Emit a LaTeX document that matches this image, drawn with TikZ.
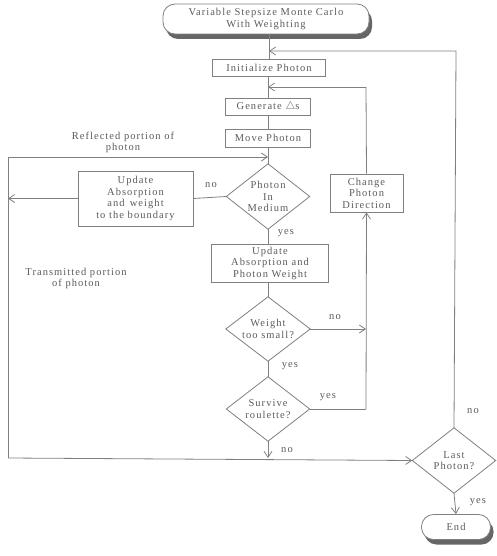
\documentclass[tikz,border=0pt]{standalone}
\usepackage{fontspec}
\setmainfont[LetterSpace=10]{Liberation Serif}
\usetikzlibrary{arrows.meta,shadows}
\definecolor{ln}{HTML}{808080}
\definecolor{tx}{HTML}{5c5c5c}
\begin{document}
\begin{tikzpicture}[x=1pt,y=-1pt,
  every node/.style={font=\fontsize{10.5}{11.5}\selectfont, text=tx},
  box/.style={draw=ln, line width=0.8pt, rectangle, inner sep=0pt, align=center},
  dia/.style={rectangle, inner sep=0pt, align=center},
  term/.style={draw=ln, line width=0.8pt, fill=white, rounded corners=12pt, inner sep=0pt, align=center,
     drop shadow={shadow xshift=3pt, shadow yshift=-5pt, fill=black!60, opacity=1}},
  lab/.style={inner sep=1pt, align=center},
  conn/.style={draw=ln, line width=0.8pt},
  arr/.style={conn, -{Straight Barb[length=6pt,width=8pt]}}]
\useasboundingbox (0,0) rectangle (496,556);
\fill[white] (0,0) rectangle (496,556);

% nodes
\node[term, minimum width=206pt, minimum height=30pt] (start) at (266,19) {Variable Stepsize Monte Carlo\\[1pt]With Weighting};
\node[box, minimum width=113pt, minimum height=17pt] (init) at (269,67.5) {Initialize Photon};
\node[box, minimum width=85pt, minimum height=17pt] (gen) at (268,106.5) {Generate $\bigtriangleup$s};
\node[box, minimum width=85pt, minimum height=18pt] (move) at (268,138) {Move Photon};
\node[dia, minimum width=83pt, minimum height=65pt] (med) at (268,196.5) {Photon\\In\\Medium};
\node[box, minimum width=115pt, minimum height=55pt] (upb) at (135.5,198.5) {Update\\Absorption\\and\enspace weight\\to the boundary};
\node[box, minimum width=73pt, minimum height=38pt] (chg) at (366.5,193) {Change\\Photon\\Direction};
\node[box, minimum width=117pt, minimum height=38pt] (upw) at (270,263) {Update\\Absorption and\\Photon Weight};
\node[dia, minimum width=84pt, minimum height=64pt] (wts) at (268,329) {Weight\\too small?};
\node[dia, minimum width=83pt, minimum height=64pt] (sur) at (268,409) {Survive\\roulette?};
\node[dia, minimum width=83pt, minimum height=65pt] (last) at (454,460.5) {Last\\Photon?};
\node[term, minimum width=69pt, minimum height=25pt, rounded corners=12pt] (end) at (456,527) {End};

\foreach \d in {med,wts,sur,last}
  \draw[conn] (\d.north) -- (\d.east) -- (\d.south) -- (\d.west) -- cycle;

% coordinates
\coordinate (jtop) at (269,51);
\coordinate (rtop) at (456,51);
\coordinate (jmid) at (268,87);
\coordinate (cmid) at (366,87);
\coordinate (lref) at (8,157);
\coordinate (mref) at (268,157);
\coordinate (lout) at (8,198.5);
\coordinate (lbot) at (8,458);
\coordinate (mbot) at (268,458);
\coordinate (wr) at (366,329);
\coordinate (sr) at (366,409);

% connectors
\draw[conn] (start.south -| jtop) -- (init.north -| jtop);
\draw[arr] (last.north) -- (rtop) -- (jtop);
\draw[conn] (init.south -| gen.north) -- (gen.north);
\draw[conn] (chg.north) -- (cmid);
\draw[arr] (cmid) -- (jmid);
\draw[conn] (gen.south) -- (move.north);
\draw[conn] (move.south) -- (med.north);
\draw[arr] (lref) -- (mref);
\draw[conn] (med.west) -- (upb.east);
\draw[arr] (upb.west) -- (lout);
\draw[conn] (med.south) -- (med.south |- upw.north);
\draw[conn] (upw.south -| wts.north) -- (wts.north);
\draw[arr] (wts.east) -- (wr);
\draw[conn] (wts.south) -- (sur.north);
\draw[conn] (sur.east) -- (sr);
\draw[arr] (sr) -- (chg.south);
\draw[arr] (sur.south) -- (mbot);
\draw[conn] (lref) -- (lbot);
\draw[arr] (lbot) -- (last.west);
\draw[arr] (last.south) -- (end.north);

% labels
\node[lab] (lrefl) at (123,142.5) {Reflected portion of\\photon};
\node[lab] (ltran) at (76,278.5) {Transmitted portion\\of photon};
\node[lab] (l1) at (211,185) {no};
\node[lab] (l2) at (286,233) {yes};
\node[lab] (l3) at (335,317) {no};
\node[lab] (l4) at (290,366) {yes};
\node[lab] (l5) at (328,397) {yes};
\node[lab] (l6) at (287,450) {no};
\node[lab] (l7) at (473,411) {no};
\node[lab] (l8) at (478,502) {yes};
\end{tikzpicture}
\end{document}
